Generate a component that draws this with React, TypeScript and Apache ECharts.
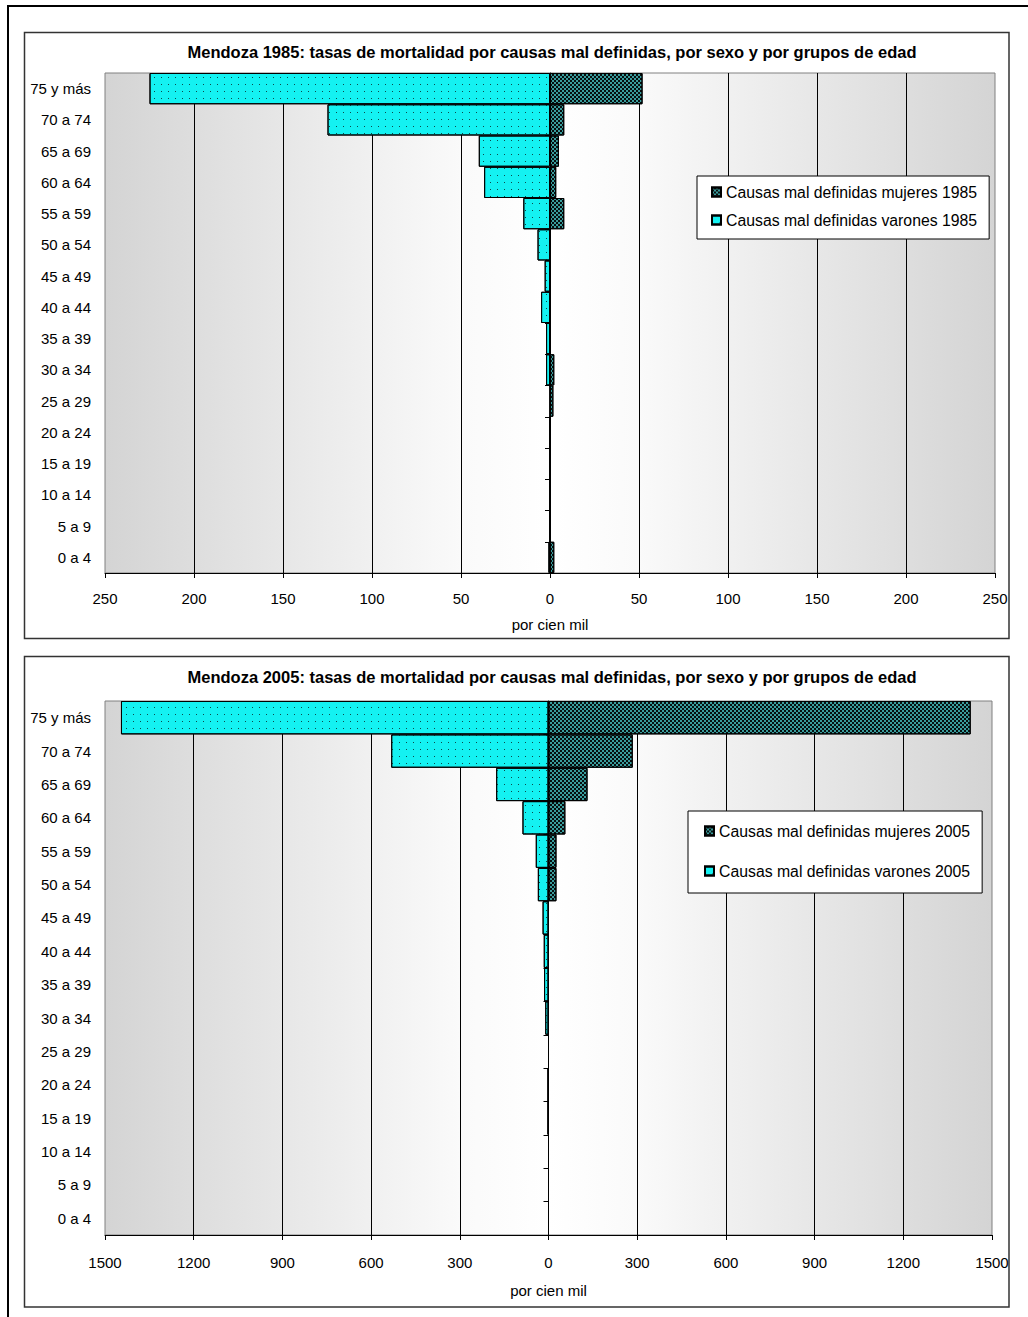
import React, { useEffect, useRef } from "react";
import * as echarts from "echarts";

const FONT = "'Liberation Sans', Arial, sans-serif";

const ageGroups = [
  "75 y más", "70 a 74", "65 a 69", "60 a 64", "55 a 59", "50 a 54", "45 a 49", "40 a 44",
  "35 a 39", "30 a 34", "25 a 29", "20 a 24", "15 a 19", "10 a 14", "5 a 9", "0 a 4",
];

// 1985 (por cien mil), top (75 y más) to bottom (0 a 4)
const varones1985 = [225, 125, 40, 37, 15, 7, 3, 5, 2.2, 2.2, 0, 0, 0, 0, 0, 0.9];
const mujeres1985 = [52, 8, 5, 3.5, 8, 0, 0, 0, 0, 2.4, 1.9, 0, 0, 0, 0, 2.4];

// 2005 (por cien mil)
const varones2005 = [1446, 532, 177, 88, 43, 36, 20, 16, 15, 11, 0, 3, 3, 0, 0, 0];
const mujeres2005 = [1428, 285, 132, 57, 27, 27, 0, 0, 0, 0, 0, 0, 0, 0, 0, 0];

const titles = [
  "Mendoza 1985: tasas de mortalidad por causas mal definidas, por sexo y por grupos de edad",
  "Mendoza 2005: tasas de mortalidad por causas mal definidas, por sexo y por grupos de edad",
];
const axisName = "por cien mil";
const legendM = ["Causas mal definidas mujeres 1985", "Causas mal definidas mujeres 2005"];
const legendV = ["Causas mal definidas varones 1985", "Causas mal definidas varones 2005"];
const xRanges = [
  { min: -250, max: 250, interval: 50 },
  { min: -1500, max: 1500, interval: 300 },
];

export default function App() {
  const ref = useRef<HTMLDivElement>(null);
  useEffect(() => {
    if (!ref.current) return;
    const chart = echarts.init(ref.current, undefined, { renderer: "svg" });

    const dotDecal = {
      symbol: "rect",
      symbolSize: 1,
      color: "#0b4a4a",
      dashArrayX: [1, 6],
      dashArrayY: [1, 6],
    };
    const checkDecal = {
      symbol: "rect",
      symbolSize: 1,
      color: "rgba(0,0,0,0.9)",
      dashArrayX: [[2, 2], [0, 2, 2, 0]],
      dashArrayY: [2, 0],
    };

    const bg = {
      type: "linear",
      x: 0, y: 0, x2: 1, y2: 0,
      colorStops: [
        { offset: 0, color: "#d4d4d4" },
        { offset: 0.4, color: "#fafafa" },
        { offset: 0.5, color: "#ffffff" },
        { offset: 0.6, color: "#fafafa" },
        { offset: 1, color: "#d4d4d4" },
      ],
    };

    const grids = [
      { left: 105, top: 73, width: 890, height: 500 },
      { left: 105, top: 701, width: 887, height: 534 },
    ].map((g) => ({
      ...g,
      show: true,
      backgroundColor: bg,
      borderColor: "#808080",
      borderWidth: 1,
      containLabel: false,
    }));

    const labelMargins = [18, 20];
    const nameGaps = [44, 48];

    const xAxes = xRanges.map((r, i) => ({
      type: "value",
      gridIndex: i,
      min: r.min,
      max: r.max,
      interval: r.interval,
      axisLine: { show: true, onZero: false, lineStyle: { color: "#000", width: 1 } },
      axisTick: { show: true, length: 5, lineStyle: { color: "#000" } },
      axisLabel: {
        color: "#000",
        fontSize: 15,
        fontFamily: FONT,
        margin: labelMargins[i],
        formatter: (v: number) => String(Math.abs(v)),
      },
      splitLine: {
        show: true,
        showMinLine: false,
        showMaxLine: false,
        lineStyle: { color: "#000", width: 1 },
      },
      name: axisName,
      nameLocation: "middle",
      nameGap: nameGaps[i],
      nameTextStyle: { color: "#000", fontSize: 15, fontFamily: FONT },
    }));

    const yAxes: any[] = [];
    [0, 1].forEach((i) => {
      yAxes.push({
        type: "category",
        gridIndex: i,
        data: ageGroups,
        inverse: true,
        position: "left",
        axisLine: { show: false, onZero: false },
        axisTick: { show: false },
        axisLabel: { color: "#000", fontSize: 15, fontFamily: FONT, margin: 14 },
        splitLine: { show: false },
      });
      yAxes.push({
        type: "category",
        gridIndex: i,
        data: ageGroups,
        inverse: true,
        position: "left",
        axisLine: { show: true, onZero: true, lineStyle: { color: "#000", width: 1 } },
        axisTick: { show: true, length: 5, inside: false, lineStyle: { color: "#000" } },
        axisLabel: { show: false },
        splitLine: { show: false },
      });
    });

    const varones = [varones1985, varones2005];
    const mujeres = [mujeres1985, mujeres2005];
    const series: any[] = [];
    [0, 1].forEach((i) => {
      series.push({
        name: legendV[i],
        type: "bar",
        xAxisIndex: i,
        yAxisIndex: 2 * i,
        data: varones[i].map((v) => -v),
        barCategoryGap: "0%",
        barGap: "-100%",
        itemStyle: { color: "#14f2f2", borderColor: "#000", borderWidth: 1, decal: dotDecal },
        emphasis: { disabled: true },
      });
      series.push({
        name: legendM[i],
        type: "bar",
        xAxisIndex: i,
        yAxisIndex: 2 * i,
        data: mujeres[i],
        barCategoryGap: "0%",
        barGap: "-100%",
        itemStyle: { color: "#3a9c9c", borderColor: "#000", borderWidth: 1, decal: checkDecal },
        emphasis: { disabled: true },
      });
    });

    const legendBase = {
      orient: "vertical",
      backgroundColor: "#fff",
      borderColor: "#000",
      borderWidth: 1,
      itemWidth: 9,
      itemHeight: 9,
      itemGap: 13,
      icon: "rect",
      textStyle: { color: "#000", fontSize: 15.8, fontFamily: FONT },
      selectedMode: false,
    };

    const legends = [
      { ...legendBase, left: 697, top: 176, padding: [8, 12, 11, 14], itemGap: 12, data: [legendM[0], legendV[0]] },
      { ...legendBase, left: 688, top: 811, padding: [12, 12, 14, 16], itemGap: 24, data: [legendM[1], legendV[1]] },
    ];

    const titleText = (t: string, y: number) => ({
      type: "text",
      x: 552,
      y,
      style: {
        text: t,
        font: `bold 16.5px ${FONT}`,
        fill: "#000",
        textAlign: "center",
        textVerticalAlign: "middle",
        align: "center",
        verticalAlign: "middle",
      },
      silent: true,
    });

    chart.setOption({
      animation: false,
      backgroundColor: "#fff",
      grid: grids,
      xAxis: xAxes,
      yAxis: yAxes,
      series,
      legend: legends,
      graphic: [
        {
          type: "rect",
          shape: { x: 8, y: 6, width: 1040, height: 1340 },
          style: { fill: "none", stroke: "#000", lineWidth: 2 },
          silent: true,
        },
        {
          type: "rect",
          shape: { x: 24.5, y: 32.5, width: 984.5, height: 606 },
          style: { fill: "none", stroke: "#333", lineWidth: 1.5 },
          silent: true,
        },
        {
          type: "rect",
          shape: { x: 24.5, y: 656.5, width: 984.5, height: 650.5 },
          style: { fill: "none", stroke: "#333", lineWidth: 1.5 },
          silent: true,
        },
        titleText(titles[0], 52),
        titleText(titles[1], 677),
      ],
    });

    return () => chart.dispose();
  }, []);

  return (
    <div
      ref={ref}
      style={{ position: "absolute", left: 0, top: 0, width: 1028, height: 1317, background: "#fff" }}
    />
  );
}
